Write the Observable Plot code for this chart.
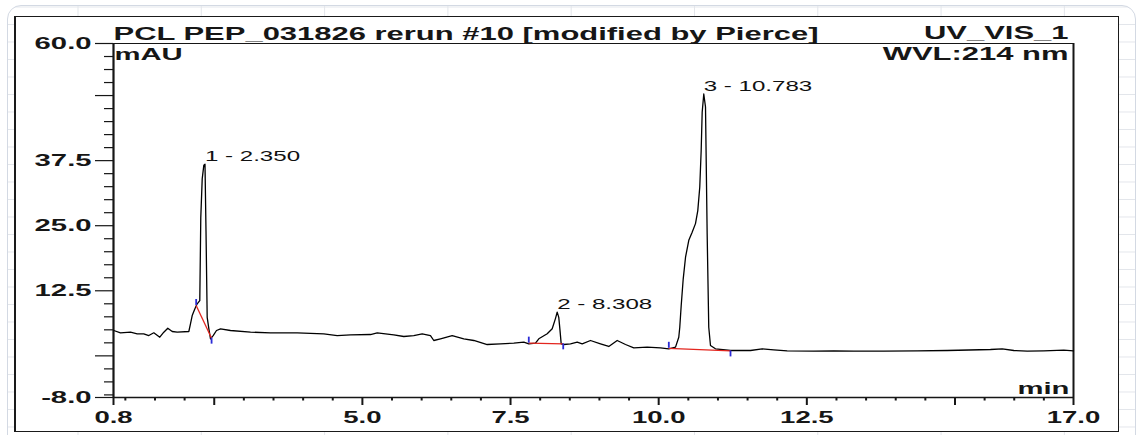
<!DOCTYPE html>
<html>
<head>
<meta charset="utf-8">
<script src="https://cdn.jsdelivr.net/npm/d3@7"></script>
<script src="https://cdn.jsdelivr.net/npm/@observablehq/plot@0.6"></script>
<style>
html, body { margin: 0; padding: 0; background: #fff; }
#wrap { position: relative; width: 1143px; height: 435px; overflow: hidden; background: #fff; }
#sheet {
  position: absolute; left: 7px; top: 5px; width: 1129px; height: 470px; box-sizing: border-box;
  border: 1.5px solid #d3d9e3; border-radius: 14px;
  background-image: linear-gradient(to right, #e3e6eb 1px, transparent 1px),
                    linear-gradient(to bottom, #e3e6eb 1px, transparent 1px);
  background-size: 123.3px 17.5px;
  background-position: 69.5px 70.5px;
}
#frame {
  position: absolute; left: 14px; top: 16px; width: 1105px; height: 416px; box-sizing: border-box;
  border: 1.5px solid #1a1a1a; border-left-width: 2px; background: #fff;
}
#chart { position: absolute; left: 0; top: 0; }
</style>
</head>
<body>
<div id="wrap">
  <div id="sheet"></div>
  <div id="frame"></div>
  <div id="chart"></div>
</div>
<script>
// ---- data (retention time in min, absorbance in mAU) ----
const times = [0.805, 0.918, 1.087, 1.200, 1.311, 1.396, 1.480, 1.581, 1.649, 1.716, 1.791, 1.875, 2.071, 2.099, 2.128, 2.172, 2.212, 2.256, 2.273, 2.297, 2.324, 2.344, 2.361, 2.381, 2.412, 2.437, 2.482, 2.538, 2.606, 2.774, 3.112, 3.449, 3.900, 4.349, 4.575, 4.799, 5.137, 5.250, 5.530, 5.699, 5.867, 6.009, 6.149, 6.205, 6.318, 6.515, 6.711, 6.880, 7.106, 7.331, 7.555, 7.724, 7.808, 7.921, 7.977, 8.119, 8.203, 8.259, 8.287, 8.314, 8.334, 8.355, 8.399, 8.512, 8.625, 8.709, 8.849, 9.018, 9.158, 9.300, 9.440, 9.580, 9.806, 10.030, 10.171, 10.284, 10.339, 10.356, 10.380, 10.414, 10.453, 10.508, 10.565, 10.621, 10.660, 10.693, 10.717, 10.734, 10.761, 10.790, 10.818, 10.845, 10.874, 10.958, 11.212, 11.549, 11.747, 11.942, 12.168, 12.617, 12.955, 13.292, 13.799, 14.362, 14.869, 15.599, 15.797, 15.993, 16.219, 16.499, 16.836, 17.000];
const absorbance = [4.87, 4.43, 4.55, 4.24, 4.24, 3.90, 4.43, 3.58, 4.55, 5.31, 4.68, 4.55, 4.68, 6.15, 7.75, 9.00, 10.0, 10.6, 26.6, 34.0, 36.6, 36.8, 24.0, 7.40, 5.00, 3.28, 3.90, 4.87, 5.20, 4.87, 4.55, 4.43, 4.43, 4.24, 3.90, 4.04, 4.10, 4.43, 4.04, 3.72, 3.90, 4.24, 3.90, 2.95, 3.28, 3.90, 3.28, 2.95, 2.18, 2.31, 2.44, 2.63, 2.31, 2.44, 3.28, 4.24, 5.20, 7.20, 8.40, 7.40, 5.00, 2.31, 2.18, 2.31, 2.63, 2.31, 2.95, 2.31, 1.80, 2.95, 2.18, 1.55, 1.67, 1.55, 1.35, 1.67, 3.58, 5.50, 9.67, 14.8, 18.95, 22.2, 23.75, 25.4, 27.9, 32.4, 39.45, 46.8, 50.3, 47.8, 23.4, 5.50, 1.99, 1.35, 1.03, 1.03, 1.35, 1.16, 0.97, 0.90, 0.97, 0.90, 0.90, 0.97, 1.03, 1.22, 1.35, 1.03, 0.90, 0.97, 1.09, 0.97];

const peakNames = ["1 - 2.350", "2 - 8.308", "3 - 10.783"];
const apexTimes = [2.344, 8.287, 10.761];
const apexValues = [36.8, 8.4, 50.3];
const baseStartTimes = [2.195, 7.808, 10.171];
const baseStartValues = [9.67, 2.44, 1.45];
const baseEndTimes = [2.455, 8.389, 11.212];
const baseEndValues = [3.40, 2.31, 0.95];

const yMajorTicks = [-8, 0, 12.5, 25, 37.5, 50, 60];
const yLabeledTicks = [-8, 12.5, 25, 37.5, 60];
const yMinorTicks = [-7.5, -5, -2.5, 2.5, 5, 7.5, 10, 15, 17.5, 20, 22.5, 27.5, 30, 32.5, 35, 40, 42.5, 45, 47.5, 52.5, 55, 57.5];
const xMajorTicks = [0.8, 2.5, 5, 7.5, 10, 12.5, 15, 17];
const xLabeledTicks = [0.8, 5, 7.5, 10, 12.5, 17];
const xMinorTicks = [1, 1.5, 2, 3, 3.5, 4, 4.5, 5.5, 6, 6.5, 7, 8, 8.5, 9, 9.5, 10.5, 11, 11.5, 12, 13, 13.5, 14, 14.5, 15.5, 16, 16.5];

const titleText = "PCL PEP_031826 rerun #10 [modified by Pierce]";
const channelText = "UV_VIS_1";
const wavelengthText = "WVL:214 nm";
const yUnitText = "mAU";
const xUnitText = "min";

const trace = times.map((t, i) => ({t, v: absorbance[i]}));
const ink = "#161616";

const chart = Plot.plot({
  width: 1143,
  height: 435,
  marginLeft: 113,
  marginRight: 70,
  marginTop: 43,
  marginBottom: 38,
  x: {domain: [0.8, 17], label: null},
  y: {domain: [-8, 60], label: null},
  style: {fontFamily: "'Liberation Sans', Arial, sans-serif", background: "transparent", color: ink, overflow: "visible"},
  marks: [
    // frame of plotting area
    Plot.ruleY([60], {stroke: ink, strokeWidth: 1.2}),
    Plot.ruleX([17], {stroke: ink, strokeWidth: 2}),
    Plot.ruleX([0.8], {stroke: ink, strokeWidth: 2.2}),
    Plot.ruleY([-8], {stroke: ink, strokeWidth: 1.5}),
    // y axis
    Plot.axisY({ticks: yMinorTicks, tickSize: 9, tickFormat: () => "", strokeWidth: 1.2, label: null}),
    Plot.axisY({ticks: yMajorTicks, tickSize: 18, tickPadding: 4, strokeWidth: 1.2, label: null,
      tickFormat: d => yLabeledTicks.includes(d) ? d.toFixed(1) : "",
      fontSize: 17, fontWeight: "bold"}),
    // x axis
    Plot.axisX({ticks: xMinorTicks, tickSize: 3.5, tickFormat: () => "", strokeWidth: 2, label: null}),
    Plot.axisX({ticks: xMajorTicks, tickSize: 8, tickPadding: 6.5, strokeWidth: 2, label: null,
      tickFormat: d => xLabeledTicks.includes(d) ? d.toFixed(1) : "",
      fontSize: 16, fontWeight: "bold"}),
    // chromatogram trace
    Plot.line(trace, {x: "t", y: "v", stroke: "#000", strokeWidth: 1.3}),
    // integration baselines
    Plot.link(peakNames, {x1: baseStartTimes, y1: baseStartValues, x2: baseEndTimes, y2: baseEndValues,
      stroke: "#e3261f", strokeWidth: 1.3}),
    Plot.ruleX(peakNames, {x: baseStartTimes, y1: baseStartValues, y2: baseStartValues, insetTop: -6,
      stroke: "#2b2bd6", strokeWidth: 1.8}),
    Plot.ruleX(peakNames, {x: baseEndTimes, y1: baseEndValues, y2: baseEndValues, insetBottom: -6,
      stroke: "#2b2bd6", strokeWidth: 1.8}),
    // peak labels
    Plot.text(peakNames, {x: apexTimes, y: apexValues, text: d => d, textAnchor: "start", lineAnchor: "bottom",
      dy: -3, fontSize: 14, fill: "#111"}),
    // header / unit texts
    Plot.text([titleText], {frameAnchor: "top-left", text: d => d, textAnchor: "start", lineAnchor: "bottom",
      dy: -4, fontSize: 18, fontWeight: "bold", fill: ink}),
    Plot.text([channelText], {frameAnchor: "top-right", text: d => d, textAnchor: "end", lineAnchor: "bottom",
      dx: -5, dy: -5, fontSize: 18, fontWeight: "bold", fill: ink}),
    Plot.text([wavelengthText], {frameAnchor: "top-right", text: d => d, textAnchor: "end", lineAnchor: "top",
      dx: -5, dy: 4, fontSize: 18, fontWeight: "bold", fill: ink}),
    Plot.text([yUnitText], {frameAnchor: "top-left", text: d => d, textAnchor: "start", lineAnchor: "top",
      dx: 1, dy: 4, fontSize: 17, fontWeight: "bold", fill: ink}),
    Plot.text([xUnitText], {frameAnchor: "bottom-right", text: d => d, textAnchor: "end", lineAnchor: "bottom",
      dx: -4, dy: -4, fontSize: 17, fontWeight: "bold", fill: ink})
  ]
});

document.getElementById("chart").appendChild(chart);

// the reference screenshot is horizontally stretched: widen glyphs the same way
const STRETCH = 1.72;
chart.querySelectorAll("text").forEach(el => {
  const n = el.getComputedTextLength();
  if (n > 0) {
    el.setAttribute("textLength", (n * STRETCH).toFixed(2));
    el.setAttribute("lengthAdjust", "spacingAndGlyphs");
  }
});
</script>
</body>
</html>
